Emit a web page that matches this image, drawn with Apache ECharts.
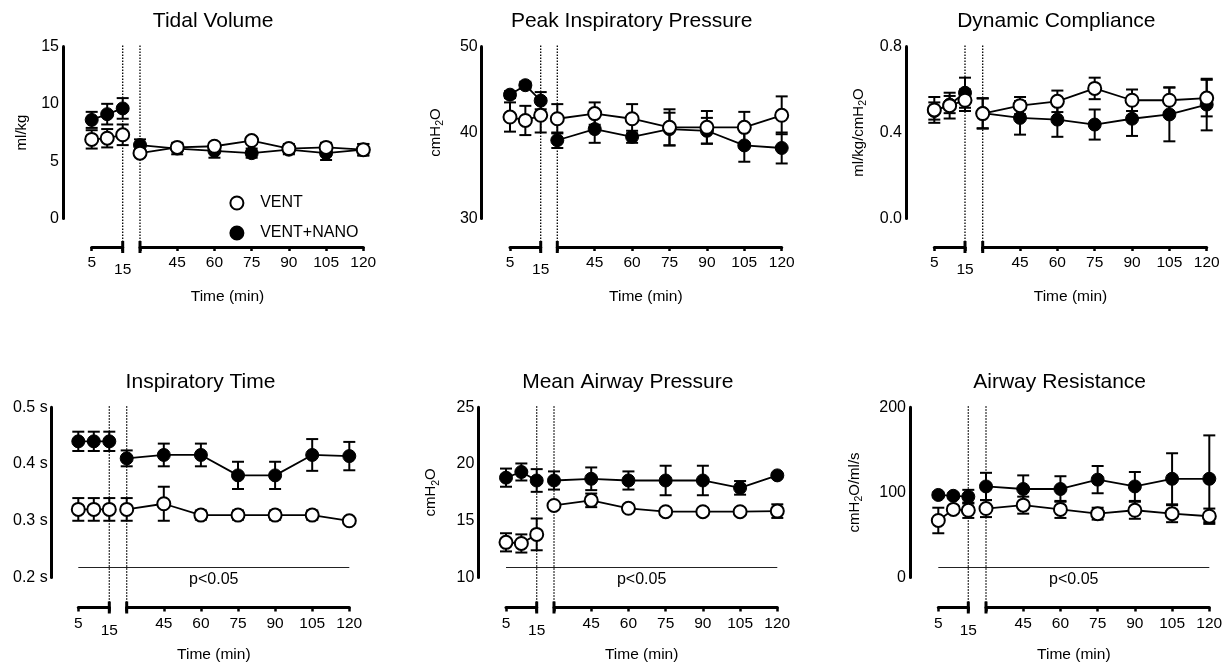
<!DOCTYPE html>
<html><head><meta charset="utf-8">
<script src="https://cdn.jsdelivr.net/npm/echarts@6/dist/echarts.min.js"></script>
<style>html,body{margin:0;padding:0;background:#fff}#c{width:1232px;height:667px}</style>
</head><body><div id="c"></div>
<script>
// ---- data ----
const seg1Times = [5, 10, 15];
const seg2Times = [30, 45, 60, 75, 90, 105, 120];
const xTickLabels1 = [5, 15];
const xTickLabels2 = [45, 60, 75, 90, 105, 120];

const tvVent     = [6.9, 7.0, 7.3, 5.7, 6.2, 6.3, 6.8, 6.1, 6.2, 6.0];
const tvVentErr  = [0.8, 0.8, 0.9, 0.3, 0.3, 0.3, 0.3, 0.4, 0.4, 0.5];
const tvNano     = [8.6, 9.1, 9.6, 6.4, 6.1, 5.9, 5.7, 6.0, 5.7, 6.0];
const tvNanoErr  = [0.7, 0.9, 0.9, 0.5, 0.5, 0.6, 0.4, 0.4, 0.6, 0.5];

const pipVent    = [41.8, 41.4, 42.0, 41.6, 42.2, 41.6, 40.6, 40.6, 40.6, 42.0];
const pipVentErr = [1.7, 1.7, 2.0, 1.7, 1.3, 1.7, 2.1, 1.9, 1.8, 2.2];
const pipNano    = [44.4, 45.5, 43.7, 39.1, 40.4, 39.5, 40.4, 40.2, 38.5, 38.2];
const pipNanoErr = [0.4, 0.4, 1.0, 0.9, 1.6, 0.7, 1.9, 1.5, 1.9, 1.8];

const dcVent     = [0.505, 0.525, 0.55, 0.488, 0.525, 0.545, 0.605, 0.55, 0.55, 0.56];
const dcVentErr  = [0.06, 0.06, 0.05, 0.07, 0.04, 0.05, 0.05, 0.05, 0.06, 0.085];
const dcNano     = [0.50, 0.53, 0.585, 0.49, 0.468, 0.46, 0.437, 0.464, 0.484, 0.53];
const dcNanoErr  = [0.04, 0.04, 0.07, 0.07, 0.078, 0.08, 0.07, 0.08, 0.125, 0.12];

const itVent     = [0.32, 0.32, 0.32, 0.32, 0.33, 0.31, 0.31, 0.31, 0.31, 0.30];
const itVentErr  = [0.02, 0.02, 0.02, 0.02, 0.03, 0.008, 0.008, 0.008, 0.008, 0];
const itNano     = [0.44, 0.44, 0.44, 0.41, 0.416, 0.416, 0.38, 0.38, 0.416, 0.414];
const itNanoErr  = [0.017, 0.017, 0.017, 0.014, 0.02, 0.02, 0.024, 0.024, 0.028, 0.025];

const mapVent    = [13.1, 13.0, 13.8, 16.35, 16.8, 16.1, 15.8, 15.8, 15.8, 15.85];
const mapVentErr = [0.8, 0.8, 1.4, 0.3, 0.6, 0.3, 0.3, 0.3, 0.3, 0.6];
const mapNano    = [18.8, 19.3, 18.55, 18.55, 18.7, 18.55, 18.55, 18.55, 17.9, 19.0];
const mapNanoErr = [0.8, 0.75, 1.0, 0.8, 1.0, 0.8, 1.3, 1.3, 0.6, 0];

const arVent     = [67, 80, 79, 81, 85, 80, 75, 79, 75, 72];
const arVentErr  = [15, 4, 9, 10, 10, 10, 7, 10, 10, 9];
const arNano     = [97, 96, 95, 107, 104, 104, 115, 107, 116, 116];
const arNanoErr  = [3, 3, 8, 16, 16, 15, 16, 17, 30, 51];

const titles = ['Tidal Volume', 'Peak Inspiratory Pressure', 'Dynamic Compliance',
                'Inspiratory Time', 'Mean Airway Pressure', 'Airway Resistance'];
const yNames = ['{a|ml/kg}', '{a|cmH}{s|2}{a|O}', '{a|ml/kg/cmH}{s|2}{a|O}',
                '', '{a|cmH}{s|2}{a|O}', '{a|cmH}{s|2}{a|O/ml/s}'];
const yRanges = [[0, 15, 5], [30, 50, 10], [0, 0.8, 0.4], [0.2, 0.5, 0.1], [10, 25, 5], [0, 200, 100]];
const seriesNames = ['VENT', 'VENT+NANO'];
const xName = 'Time (min)';
const pText = 'p<0.05';

const panelData = [
  [tvVent, tvVentErr, tvNano, tvNanoErr],
  [pipVent, pipVentErr, pipNano, pipNanoErr],
  [dcVent, dcVentErr, dcNano, dcNanoErr],
  [itVent, itVentErr, itNano, itNanoErr],
  [mapVent, mapVentErr, mapNano, mapNanoErr],
  [arVent, arVentErr, arNano, arNanoErr]
];
const yFormat = [
  v => String(Math.round(v)),
  v => String(Math.round(v)),
  v => v.toFixed(1),
  v => v.toFixed(1) + ' s',
  v => String(Math.round(v)),
  v => String(Math.round(v))
];
const hasP = [false, false, false, true, true, true];

// ---- layout (pixels) ----
const layouts = [
  {yx: 63,    t: 46.5,  b: 218.5, xy: 247,   s1: [91.7, 122.7],  s2: [140, 363.3],   gap: 31, ty: 21,  nameY: 297},
  {yx: 481.7, t: 46.5,  b: 218.5, xy: 247,   s1: [510, 540.7],   s2: [557.3, 781.7], gap: 36, ty: 21,  nameY: 297},
  {yx: 906,   t: 46.5,  b: 218.5, xy: 247,   s1: [934.3, 965],   s2: [982.7, 1206.7],gap: 37, ty: 21,  nameY: 297},
  {yx: 51.7,  t: 407.3, b: 577.5, xy: 607.5, s1: [78.3, 109.3],  s2: [126.7, 349.3], gap: 30, ty: 382, nameY: 655},
  {yx: 478.3, t: 407.3, b: 577.5, xy: 607.5, s1: [506, 536.7],   s2: [554, 777.3],   gap: 37, ty: 382, nameY: 655},
  {yx: 910,   t: 407.3, b: 577.5, xy: 607.5, s1: [938.3, 968.3], s2: [986, 1209.3],  gap: 45, ty: 382, nameY: 655}
];

const FONT = '"Liberation Sans", Arial, Helvetica, sans-serif';

function renderErr(params, api) {
  const x = api.value(0), m = api.value(1), e = api.value(2);
  if (!e) return {type: 'group', children: []};
  const top = api.coord([x, m + e]), bot = api.coord([x, m - e]);
  const hw = 6;
  const st = {stroke: '#000', lineWidth: 2};
  return {type: 'group', children: [
    {type: 'line', shape: {x1: top[0], y1: top[1], x2: bot[0], y2: bot[1]}, style: st},
    {type: 'line', shape: {x1: top[0] - hw, y1: top[1], x2: top[0] + hw, y2: top[1]}, style: st},
    {type: 'line', shape: {x1: bot[0] - hw, y1: bot[1], x2: bot[0] + hw, y2: bot[1]}, style: st}
  ]};
}

function makeDeco(xBreak, xStart, xEnd, yMin, yMax, xOff, pLine, extendLeft) {
  return function (params, api) {
    const t = api.coord([xBreak, yMax]), b = api.coord([xBreak, yMin]);
    const axisY = b[1] + xOff;
    const ch = [
      {type: 'line', shape: {x1: t[0], y1: t[1] - 1, x2: t[0], y2: axisY}, style: {stroke: '#000', lineWidth: 1.3, lineDash: [1.5, 1.5]}},
      {type: 'line', shape: {x1: t[0], y1: axisY - 6, x2: t[0], y2: axisY + 6}, style: {stroke: '#000', lineWidth: 3}}
    ];
    if (pLine) {
      const a = api.coord([xStart, yMin]), c = api.coord([xEnd, yMin]);
      ch.push({type: 'line', shape: {x1: a[0] - extendLeft, y1: a[1] - 10, x2: c[0], y2: c[1] - 10}, style: {stroke: '#222', lineWidth: 1}});
    }
    return {type: 'group', children: ch};
  };
}

const option = {
  animation: false,
  backgroundColor: '#fff',
  grid: [], xAxis: [], yAxis: [], series: [], graphic: [],
  legend: {
    data: seriesNames, orient: 'vertical', left: 224.4, top: 190,
    itemWidth: 36.6, itemHeight: 13, itemGap: 14, icon: 'circle', selectedMode: false,
    textStyle: {fontSize: 16, fontFamily: FONT, color: '#000', lineHeight: 16}
  }
};

panelData.forEach((pd, i) => {
  const L = layouts[i];
  const [yMin, yMax, yInt] = yRanges[i];
  const g1 = option.grid.length, g2 = g1 + 1;
  option.grid.push({left: L.s1[0], top: L.t, width: L.s1[1] - L.s1[0], height: L.b - L.t});
  option.grid.push({left: L.s2[0], top: L.t, width: L.s2[1] - L.s2[0], height: L.b - L.t});
  const xOff = L.xy - L.b;
  const xCommon = {
    type: 'value', position: 'bottom', offset: xOff,
    axisLine: {show: true, onZero: false, lineStyle: {color: '#000', width: 3}},
    axisTick: {show: true, length: 4, lineStyle: {color: '#000', width: 2.5}},
    splitLine: {show: false}
  };
  const lblBase = {color: '#000', fontSize: 15.5, fontFamily: FONT, margin: 8, showMinLabel: true, showMaxLabel: true};
  option.xAxis.push(Object.assign({}, xCommon, {
    gridIndex: g1, min: seg1Times[0], max: seg1Times[seg1Times.length - 1], interval: xTickLabels1[1] - xTickLabels1[0],
    axisLabel: Object.assign({}, lblBase, {
      formatter: v => (v === xTickLabels1[1] ? '{lo|' + v + '}' : String(v)),
      rich: {lo: {fontSize: 15.5, fontFamily: FONT, color: '#000', padding: [7, 0, 0, 0]}}
    })
  }));
  option.xAxis.push(Object.assign({}, xCommon, {
    gridIndex: g2, min: seg2Times[0], max: seg2Times[seg2Times.length - 1], interval: xTickLabels2[1] - xTickLabels2[0],
    axisLabel: Object.assign({}, lblBase, {formatter: v => (xTickLabels2.indexOf(v) >= 0 ? String(v) : '')})
  }));
  option.yAxis.push({
    type: 'value', gridIndex: g1, min: yMin, max: yMax, interval: yInt, offset: L.s1[0] - L.yx,
    axisLine: {show: true, lineStyle: {color: '#000', width: 3}},
    axisTick: {show: false}, splitLine: {show: false},
    axisLabel: {color: '#000', fontSize: 16, fontFamily: FONT, margin: 4, formatter: yFormat[i], showMinLabel: true, showMaxLabel: true},
    name: yNames[i], nameLocation: 'middle', nameGap: L.gap, nameRotate: 90,
    nameTextStyle: {color: '#000', fontFamily: FONT, fontSize: 15,
      rich: {a: {fontSize: 15, fontFamily: FONT, color: '#000', lineHeight: 20},
             s: {fontSize: 10.5, fontFamily: FONT, color: '#000', lineHeight: 9, verticalAlign: 'bottom'}}}
  });
  option.yAxis.push({type: 'value', gridIndex: g2, min: yMin, max: yMax, show: false});

  const [vent, ventErr, nano, nanoErr] = pd;
  const segs = [
    {times: seg1Times, off: 0, xi: g1, brk: seg1Times[seg1Times.length - 1], ext: 0},
    {times: seg2Times, off: seg1Times.length, xi: g2, brk: seg2Times[0], ext: 20}
  ];
  segs.forEach(sg => {
    const pick = arr => sg.times.map((t, k) => [t, arr[sg.off + k]]);
    const pickE = (arr, er) => sg.times.map((t, k) => [t, arr[sg.off + k], er[sg.off + k]]);
    option.series.push({
      type: 'custom', xAxisIndex: sg.xi, yAxisIndex: sg.xi, silent: true, clip: false, z: 1,
      renderItem: makeDeco(sg.brk, sg.times[0], sg.times[sg.times.length - 1], yMin, yMax, xOff, hasP[i], sg.ext),
      data: [[sg.brk, yMin]], encode: {x: 0, y: 1}
    });
    option.series.push({
      type: 'custom', xAxisIndex: sg.xi, yAxisIndex: sg.xi, silent: true, clip: false, z: 2,
      renderItem: renderErr, data: pickE(nano, nanoErr), encode: {x: 0, y: 1}
    });
    option.series.push({
      type: 'custom', xAxisIndex: sg.xi, yAxisIndex: sg.xi, silent: true, clip: false, z: 2,
      renderItem: renderErr, data: pickE(vent, ventErr), encode: {x: 0, y: 1}
    });
    option.series.push({
      name: seriesNames[1], type: 'line', xAxisIndex: sg.xi, yAxisIndex: sg.xi, z: 3, clip: false,
      data: pick(nano), symbol: 'circle', symbolSize: 13, showAllSymbol: true,
      lineStyle: {color: '#000', width: 1.8}, itemStyle: {color: '#000', borderColor: '#000', borderWidth: 1},
      emphasis: {disabled: true}, silent: true
    });
    option.series.push({
      name: seriesNames[0], type: 'line', xAxisIndex: sg.xi, yAxisIndex: sg.xi, z: 4, clip: false,
      data: pick(vent), symbol: 'circle', symbolSize: 13, showAllSymbol: true,
      lineStyle: {color: '#000', width: 1.8}, itemStyle: {color: '#fff', borderColor: '#000', borderWidth: 2},
      emphasis: {disabled: true}, silent: true
    });
  });

  // texts
  option.graphic.push({type: 'text', x: (L.yx + L.s2[1]) / 2, y: L.ty, silent: true,
    style: {text: titles[i], fontSize: 21, fontFamily: FONT, fill: '#000', align: 'center', verticalAlign: 'middle'}});
  option.graphic.push({type: 'text', x: (L.s1[0] + L.s2[1]) / 2, y: L.nameY, silent: true,
    style: {text: xName, fontSize: 15.5, fontFamily: FONT, fill: '#000', align: 'center', verticalAlign: 'middle'}});
  if (hasP[i]) {
    option.graphic.push({type: 'text', x: (L.s1[0] + L.s2[1]) / 2, y: L.b + 2.5, silent: true,
      style: {text: pText, fontSize: 16, fontFamily: FONT, fill: '#000', align: 'center', verticalAlign: 'middle'}});
  }
});

const chart = echarts.init(document.getElementById('c'), null, {renderer: 'canvas'});
chart.setOption(option);
</script>
</body></html>
